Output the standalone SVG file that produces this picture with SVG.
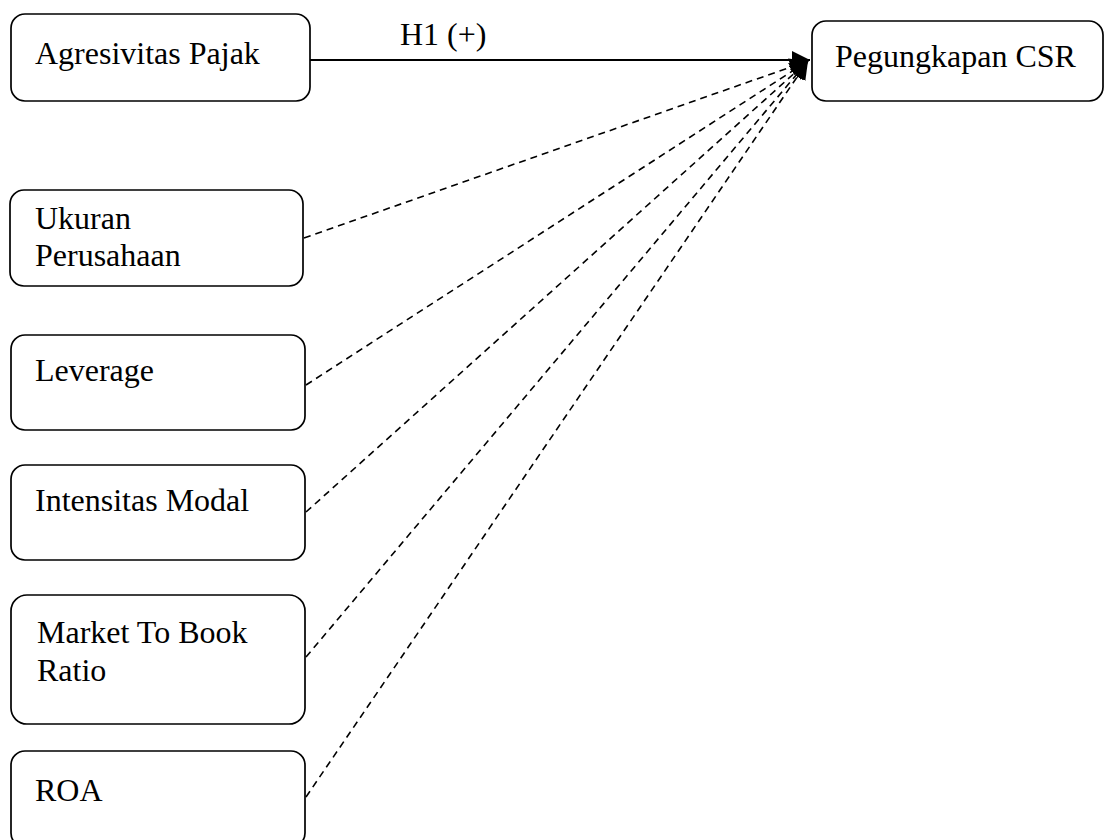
<svg xmlns="http://www.w3.org/2000/svg" width="1105" height="840" viewBox="0 0 1105 840">
<style>
.box{fill:#fff;stroke:#000;stroke-width:1.7}
.t{font-family:"Liberation Serif","Times New Roman",serif;font-size:32px;fill:#000}
.solid{stroke:#000;stroke-width:2;fill:none}
.dash{stroke:#000;stroke-width:1.6;fill:none;stroke-dasharray:7 5}
</style>
<defs>
<marker id="ah2" viewBox="0 0 10 10" refX="10" refY="5" markerWidth="18" markerHeight="18" markerUnits="userSpaceOnUse" orient="auto">
<path d="M0,0 L10,5 L0,10 z" fill="#000"/>
</marker>
</defs>
<g id="connectors">
<line class="solid" x1="310" y1="60" x2="810" y2="60" marker-end="url(#ah2)"/>
<line class="dash" x1="304" y1="238" x2="808" y2="61" marker-end="url(#ah2)"/>
<line class="dash" x1="306" y1="385" x2="808" y2="61" marker-end="url(#ah2)"/>
<line class="dash" x1="306" y1="512" x2="808" y2="61" marker-end="url(#ah2)"/>
<line class="dash" x1="306" y1="657" x2="808" y2="61" marker-end="url(#ah2)"/>
<line class="dash" x1="306" y1="797" x2="808" y2="61" marker-end="url(#ah2)"/>
<text class="t" x="400" y="45">H1 (+)</text>
</g>
<g id="n-agresivitas">
<rect class="box" x="11" y="14" width="299" height="87" rx="14"/>
<text class="t" x="35" y="64">Agresivitas Pajak</text>
</g>
<g id="n-csr">
<rect class="box" x="812" y="21" width="291" height="80" rx="14"/>
<text class="t" x="835" y="67">Pegungkapan CSR</text>
</g>
<g id="n-ukuran">
<rect class="box" x="10" y="190" width="293" height="96" rx="14"/>
<text class="t" x="35" y="229">Ukuran</text>
<text class="t" x="35" y="266">Perusahaan</text>
</g>
<g id="n-leverage">
<rect class="box" x="11" y="335" width="294" height="95" rx="14"/>
<text class="t" x="35" y="381">Leverage</text>
</g>
<g id="n-intensitas">
<rect class="box" x="11" y="465" width="294" height="95" rx="14"/>
<text class="t" x="35" y="511">Intensitas Modal</text>
</g>
<g id="n-mtb">
<rect class="box" x="11" y="595" width="294" height="129" rx="16"/>
<text class="t" x="37" y="643">Market To Book</text>
<text class="t" x="37" y="681">Ratio</text>
</g>
<g id="n-roa">
<rect class="box" x="11" y="751" width="294" height="96" rx="14"/>
<text class="t" x="35" y="801">ROA</text>
</g>
</svg>
